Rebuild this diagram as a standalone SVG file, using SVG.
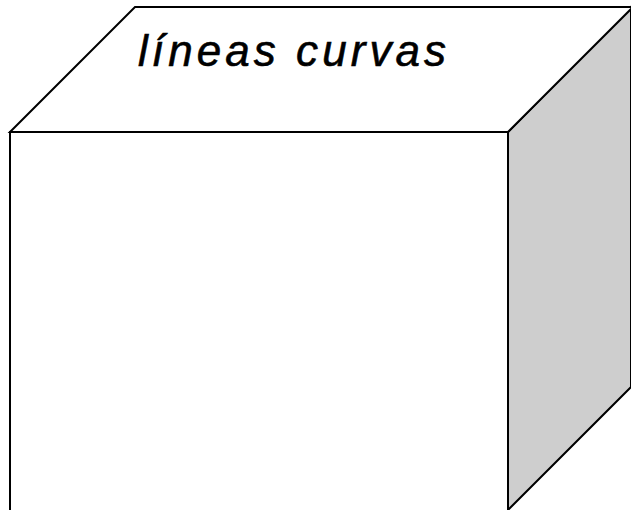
<svg xmlns="http://www.w3.org/2000/svg" width="631" height="510" viewBox="0 0 631 510">
<style>
.edge{stroke:#000;stroke-width:2;stroke-linejoin:miter}
.label{font-family:"Liberation Sans","DejaVu Sans",cursive;font-style:italic;font-size:44px;fill:#000;stroke:#000;stroke-width:0.6}
</style>
<rect width="631" height="510" fill="#fff"/>
<g id="side">
<polygon class="edge" points="508,132 631,7 631,387 508,510" fill="#cecece"/>
</g>
<g id="top">
<polygon class="edge" points="10,132 135,7 633,7 508,132" fill="#fff"/>
<text class="label" x="138" y="66" textLength="308" lengthAdjust="spacing">líneas curvas</text>
</g>
<g id="front">
<polyline class="edge" points="10,512 10,132 508,132 508,512" fill="#fff"/>
</g>
</svg>
